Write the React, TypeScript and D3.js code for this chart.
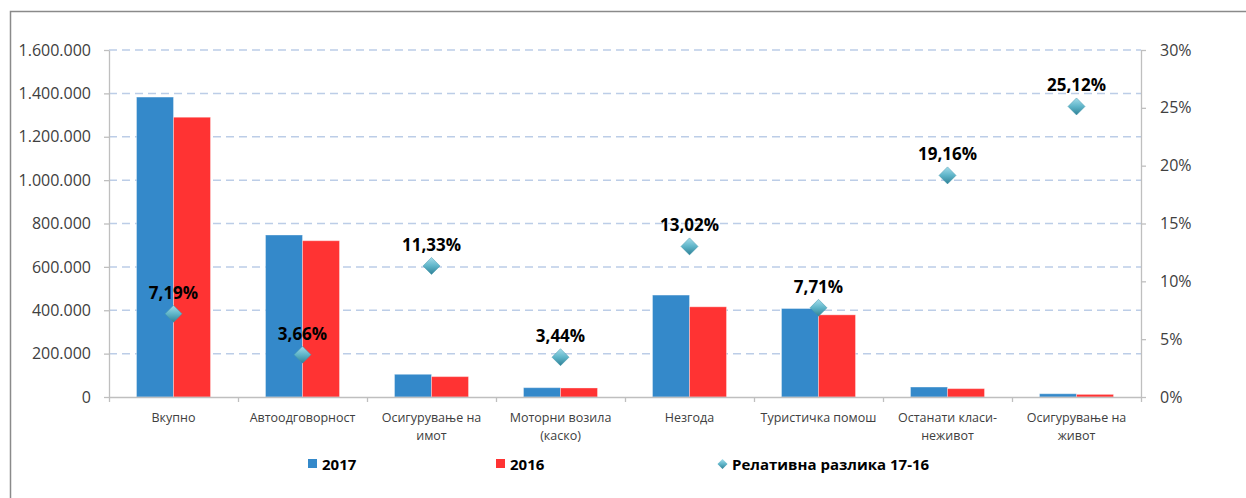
import React, { useEffect, useRef } from 'react';
import * as d3 from 'd3';

const categoryLines: string[][] = [
  ['Вкупно'],
  ['Автоодговорност'],
  ['Осигурување на', 'имот'],
  ['Моторни возила', '(каско)'],
  ['Незгода'],
  ['Туристичка помош'],
  ['Останати класи-', 'неживот'],
  ['Осигурување на', 'живот'],
];
const values2017 = [1383000, 747000, 104700, 43000, 470000, 408000, 46000, 15000];
const values2016 = [1290000, 720600, 94000, 41600, 415900, 378800, 38600, 12000];
const relDiff = [7.19, 3.66, 11.33, 3.44, 13.02, 7.71, 19.16, 25.12];
const leftTicks = [0, 200000, 400000, 600000, 800000, 1000000, 1200000, 1400000, 1600000];
const rightTicks = [0, 0.05, 0.1, 0.15, 0.2, 0.25, 0.3];
const seriesNames = ['2017', '2016'];
const diffName = 'Релативна разлика 17-16';

const W = 1246;
const H = 498;
const P = { left: 109, right: 1141, top: 50, bottom: 397 };
const FONT = '"Open Sans", sans-serif';
const BLUE = '#3489ca';
const RED = '#ff3333';
const AXIS = '#bfbfbf';
const TXT = '#404040';

const mk = d3.formatLocale({ decimal: ',', thousands: '.', grouping: [3], currency: ['', ''] });
const fmtNum = mk.format(',');

export default function App() {
  const ref = useRef<SVGSVGElement | null>(null);

  useEffect(() => {
    const el = ref.current;
    if (!el) return;
    const svg = d3.select(el);
    svg.selectAll('*').remove();

    const idx = categoryLines.map((_, i) => String(i));
    const x = d3.scaleBand().domain(idx).range([P.left, P.right]).paddingInner(0).paddingOuter(0);
    const bw = x.bandwidth();
    const sub = d3.scaleBand().domain(seriesNames).range([bw / 2 - 37, bw / 2 + 37]);
    const y = d3.scaleLinear().domain([0, 1600000]).range([P.bottom, P.top]);
    const yR = d3.scaleLinear().domain([0, 0.3]).range([P.bottom, P.top]);

    const defs = svg.append('defs');
    const grad = defs.append('linearGradient').attr('id', 'dia').attr('x1', 0).attr('y1', 0).attr('x2', 0).attr('y2', 1);
    grad.append('stop').attr('offset', '0%').attr('stop-color', '#a3dcea');
    grad.append('stop').attr('offset', '50%').attr('stop-color', '#5fb5c9');
    grad.append('stop').attr('offset', '100%').attr('stop-color', '#2f8196');

    // frame
    svg.append('path')
      .attr('d', `M10.5,${H} L10.5,11.5 L${W},11.5`)
      .attr('fill', 'none')
      .attr('stroke', '#8a8a8a')
      .attr('stroke-width', 1.5);

    // gridlines
    svg.append('g')
      .selectAll('line')
      .data(leftTicks.filter((t) => t > 0))
      .join('line')
      .attr('x1', P.left)
      .attr('x2', P.right)
      .attr('y1', (d) => y(d))
      .attr('y2', (d) => y(d))
      .attr('stroke', '#bccde7')
      .attr('stroke-width', 1.5)
      .attr('stroke-dasharray', '8,5');

    // bars
    const series = [values2017, values2016];
    const colors = [BLUE, RED];
    series.forEach((vals, s) => {
      svg.append('g')
        .selectAll('rect')
        .data(vals)
        .join('rect')
        .attr('x', (_, i) => (x(String(i)) as number) + (sub(seriesNames[s]) as number))
        .attr('width', sub.bandwidth())
        .attr('y', (d) => y(d))
        .attr('height', (d) => P.bottom - y(d))
        .attr('fill', colors[s])
        .attr('stroke', 'rgba(255,255,255,0.35)')
        .attr('stroke-width', 1);
    });

    // axes
    const styleAxis = (g: d3.Selection<SVGGElement, unknown, null, undefined>) => {
      g.selectAll('path,line').attr('stroke', AXIS).attr('stroke-width', 1.3);
      g.selectAll('text').attr('fill', TXT).attr('font-size', 16).attr('font-family', FONT);
    };
    const gl = svg.append('g').attr('transform', `translate(${P.left},0)`);
    gl.call(d3.axisLeft(y).tickValues(leftTicks).tickSize(5).tickSizeOuter(0).tickPadding(13).tickFormat((d) => fmtNum(d as number)));
    styleAxis(gl);

    const gr = svg.append('g').attr('transform', `translate(${P.right},0)`);
    gr.call(d3.axisRight(yR).tickValues(rightTicks).tickSize(5).tickSizeOuter(0).tickPadding(14).tickFormat((d) => `${Math.round((d as number) * 100)}%`));
    styleAxis(gr);

    const xb = d3.scaleLinear().domain([0, categoryLines.length]).range([P.left, P.right]);
    const gb = svg.append('g').attr('transform', `translate(0,${P.bottom})`);
    gb.call(d3.axisBottom(xb).tickValues(d3.range(categoryLines.length + 1)).tickSize(5).tickSizeOuter(0).tickFormat(() => ''));
    styleAxis(gb);

    // category labels
    const cl = svg.append('g')
      .selectAll('text')
      .data(categoryLines)
      .join('text')
      .attr('x', (_, i) => (x(String(i)) as number) + bw / 2)
      .attr('y', 422)
      .attr('text-anchor', 'middle')
      .attr('fill', TXT)
      .attr('font-size', 12.5)
      .attr('font-family', FONT);
    cl.selectAll('tspan')
      .data((d) => d)
      .join('tspan')
      .attr('x', function () {
        return (this as SVGTSpanElement).parentElement!.getAttribute('x');
      })
      .attr('dy', (_, j) => (j === 0 ? 0 : 18))
      .text((d) => d);

    // relative difference markers
    const dia = (cx: number, cy: number, r: number) => `M${cx},${cy - r} L${cx + r},${cy} L${cx},${cy + r} L${cx - r},${cy} Z`;
    svg.append('g')
      .selectAll('path')
      .data(relDiff)
      .join('path')
      .attr('d', (d, i) => dia((x(String(i)) as number) + bw / 2, yR(d / 100), 8.5))
      .attr('fill', 'url(#dia)')
      .attr('stroke', '#3f95aa')
      .attr('stroke-width', 0.5);

    svg.append('g')
      .selectAll('text')
      .data(relDiff)
      .join('text')
      .attr('x', (_, i) => (x(String(i)) as number) + bw / 2)
      .attr('y', (d) => yR(d / 100) - 15)
      .attr('text-anchor', 'middle')
      .attr('fill', '#000')
      .attr('font-size', 17)
      .attr('font-weight', 700)
      .attr('font-family', FONT)
      .text((d) => `${d.toFixed(2).replace('.', ',')}%`);

    // legend
    const lg = svg.append('g').attr('font-family', FONT).attr('font-size', 15).attr('font-weight', 700).attr('fill', '#000');
    const legendX = [308, 496];
    seriesNames.forEach((name, s) => {
      lg.append('rect').attr('x', legendX[s]).attr('y', 459).attr('width', 9).attr('height', 9).attr('fill', colors[s]);
      lg.append('text').attr('x', legendX[s] + 14).attr('y', 469.5).text(name);
    });
    lg.append('path').attr('d', dia(722.5, 464, 5)).attr('fill', 'url(#dia)');
    lg.append('text').attr('x', 732).attr('y', 469.5).text(diffName);
  }, []);

  return (
    <svg
      ref={ref}
      width={W}
      height={H}
      style={{ position: 'absolute', left: 0, top: 0, background: '#fff', display: 'block' }}
    />
  );
}
